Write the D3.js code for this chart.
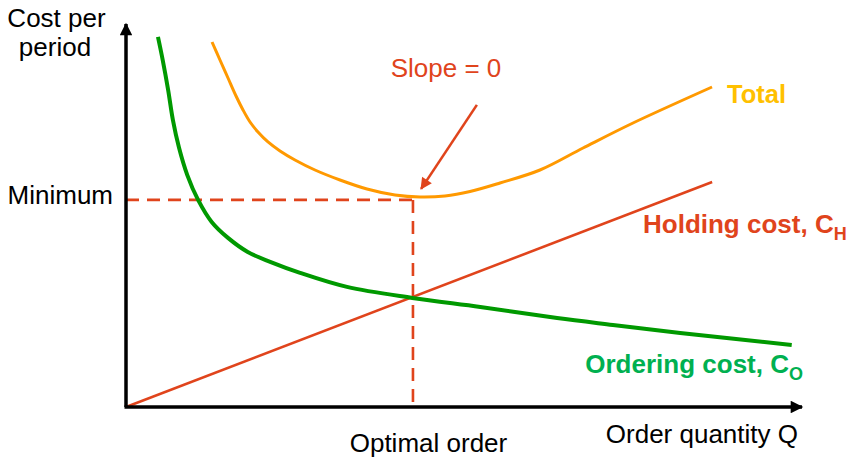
<!DOCTYPE html>
<html>
<head>
<meta charset="utf-8">
<script src="https://cdn.jsdelivr.net/npm/d3@7"></script>
<style>
  html, body { margin: 0; padding: 0; background: #fff; }
  svg { display: block; font-family: "Liberation Sans", Arial, sans-serif; }
</style>
</head>
<body>
<svg id="chart" width="866" height="472"></svg>
<script>
// ---- data (arbitrary units) ----
const orderingQ    = [4.7, 5.4, 6.2, 6.9, 7.8, 9.0, 10.6, 12.6, 15.0, 17.9, 21.2, 25.6, 32.5, 42.1, 52.1, 63.4, 71.6, 81.5, 97.9];
const orderingCost = [97.4, 91.3, 83.4, 75.5, 68.2, 61.1, 54.5, 48.7, 44.5, 40.8, 38.2, 35.3, 31.6, 28.7, 26.3, 23.4, 21.6, 19.5, 16.3];

const holdingQ    = [0, 86.2];
const holdingCost = [0, 59.2];

const totalQ    = [12.65, 13.82, 15.0, 16.18, 17.21, 18.24, 19.41, 20.88, 22.65, 24.85, 27.79, 31.47, 35.44, 39.56, 43.24, 46.91, 50.59, 55.0, 60.88, 67.21, 74.56, 86.18];
const totalCost = [96.05, 91.32, 86.58, 81.84, 78.16, 75.0, 72.37, 69.74, 67.37, 65.0, 62.37, 59.74, 57.37, 55.79, 55.26, 55.53, 56.71, 58.95, 62.37, 68.16, 74.74, 84.21];

const optimalQ    = 42.2;
const minimumCost = 54.5;
const slopeArrowFrom = [51.6, 79.5];
const slopeArrowTo   = [43.4, 57.4];

const xTickValues = [optimalQ];
const xTickLabels = ["Optimal order"];
const yTickValues = [minimumCost];
const yTickLabels = ["Minimum"];

// ---- layout ----
const svg = d3.select("#chart");
const x = d3.scaleLinear().domain([0, 100]).range([126, 806]);
const y = d3.scaleLinear().domain([0, 100]).range([407, 27]);

const RED = "#e0441c", GREEN_LINE = "#009900", GREEN_TEXT = "#00b050", ORANGE = "#ff9900", GOLD = "#ffc000";
const FS = 26;

const defs = svg.append("defs");
defs.append("marker").attr("id", "blackArrow")
  .attr("viewBox", "0 0 10 10").attr("refX", 9).attr("refY", 5)
  .attr("markerWidth", 4).attr("markerHeight", 3.6).attr("markerUnits", "strokeWidth")
  .attr("orient", "auto")
  .append("path").attr("d", "M0,0 L10,5 L0,10 z").attr("fill", "#000");
defs.append("marker").attr("id", "redArrow")
  .attr("viewBox", "0 0 10 10").attr("refX", 9).attr("refY", 5)
  .attr("markerWidth", 5).attr("markerHeight", 4.5).attr("markerUnits", "strokeWidth")
  .attr("orient", "auto")
  .append("path").attr("d", "M0,0 L10,5 L0,10 z").attr("fill", RED);

// dashed guide lines
svg.append("line")
  .attr("x1", x(0)).attr("y1", y(minimumCost)).attr("x2", x(optimalQ)).attr("y2", y(minimumCost))
  .attr("stroke", RED).attr("stroke-width", 2.6).attr("stroke-dasharray", "13,8");
svg.append("line")
  .attr("x1", x(optimalQ)).attr("y1", y(minimumCost)).attr("x2", x(optimalQ)).attr("y2", y(0))
  .attr("stroke", RED).attr("stroke-width", 2.6).attr("stroke-dasharray", "13,8");

const line = d3.line().x(d => x(d[0])).y(d => y(d[1]));
const smooth = d3.line().x(d => x(d[0])).y(d => y(d[1])).curve(d3.curveCatmullRom.alpha(0.5));

// holding cost
svg.append("path").datum(d3.zip(holdingQ, holdingCost))
  .attr("d", line).attr("fill", "none").attr("stroke", RED).attr("stroke-width", 2.6);

// ordering cost
svg.append("path").datum(d3.zip(orderingQ, orderingCost))
  .attr("d", smooth).attr("fill", "none").attr("stroke", GREEN_LINE).attr("stroke-width", 4);

// total cost
svg.append("path").datum(d3.zip(totalQ, totalCost))
  .attr("d", smooth).attr("fill", "none").attr("stroke", ORANGE).attr("stroke-width", 3);

// axes lines with arrows
svg.append("line")
  .attr("x1", x(0)).attr("y1", y(0)).attr("x2", x(0)).attr("y2", 24)
  .attr("stroke", "#000").attr("stroke-width", 3.5).attr("marker-end", "url(#blackArrow)");
svg.append("line")
  .attr("x1", x(0) - 1.5).attr("y1", y(0)).attr("x2", 802).attr("y2", y(0))
  .attr("stroke", "#000").attr("stroke-width", 3.5).attr("marker-end", "url(#blackArrow)");

// tick labels via d3 axes
const xAxis = d3.axisBottom(x).tickValues(xTickValues)
  .tickFormat((d, i) => xTickLabels[i]).tickSize(0).tickPadding(0);
const gx = svg.append("g").attr("transform", `translate(0,${y(0)})`).call(xAxis);
gx.select(".domain").remove();
gx.selectAll("text").attr("font-size", FS).attr("font-family", "Liberation Sans, Arial, sans-serif")
  .attr("fill", "#000").attr("dy", null).attr("y", 45).attr("dx", 15);

const yAxis = d3.axisLeft(y).tickValues(yTickValues)
  .tickFormat((d, i) => yTickLabels[i]).tickSize(0).tickPadding(0);
const gy = svg.append("g").attr("transform", `translate(${x(0)},0)`).call(yAxis);
gy.select(".domain").remove();
gy.selectAll("text").attr("font-size", FS).attr("font-family", "Liberation Sans, Arial, sans-serif")
  .attr("fill", "#000").attr("x", -13).attr("dy", "0.12em");

// slope arrow
svg.append("line")
  .attr("x1", x(slopeArrowFrom[0])).attr("y1", y(slopeArrowFrom[1]))
  .attr("x2", x(slopeArrowTo[0])).attr("y2", y(slopeArrowTo[1]))
  .attr("stroke", RED).attr("stroke-width", 2.6).attr("marker-end", "url(#redArrow)");

// text labels
const txt = (t, px, py, opts = {}) => svg.append("text")
  .attr("x", px).attr("y", py)
  .attr("font-size", opts.size || FS)
  .attr("font-weight", opts.weight || "normal")
  .attr("fill", opts.fill || "#000")
  .attr("text-anchor", opts.anchor || "start")
  .text(t);

txt("Cost per", 56.5, 27, { anchor: "middle" });
txt("period", 55, 56, { anchor: "middle" });
txt("Order quantity Q", 798, 443, { anchor: "end" });
txt("Slope = 0", 446, 77, { anchor: "middle", fill: RED });
txt("Total", 727, 103, { weight: "bold", fill: GOLD, size: 25.5 });

const hold = svg.append("text").attr("x", 643).attr("y", 233)
  .attr("font-size", FS).attr("font-weight", "bold").attr("fill", RED);
hold.append("tspan").text("Holding cost, C");
hold.append("tspan").attr("font-size", 18).attr("dy", 7).text("H");

const ord = svg.append("text").attr("x", 803).attr("y", 373).attr("text-anchor", "end")
  .attr("font-size", FS).attr("font-weight", "bold").attr("fill", GREEN_TEXT);
ord.append("tspan").text("Ordering cost, C");
ord.append("tspan").attr("font-size", 18).attr("dy", 7).text("O");
</script>
</body>
</html>
